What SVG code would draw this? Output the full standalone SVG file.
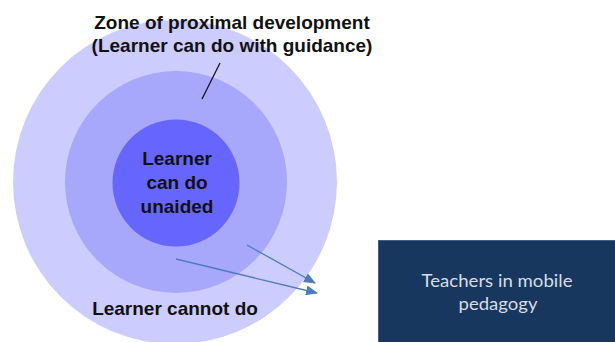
<svg xmlns="http://www.w3.org/2000/svg" width="615" height="342" viewBox="0 0 615 342">
<defs>
<style>
.lbl{font-family:"Liberation Sans",Arial,sans-serif;font-weight:bold;font-size:19px;fill:#111;text-anchor:middle}
.box{font-family:Lato,"Open Sans",sans-serif;font-size:17px;fill:#d8dde6;text-anchor:middle}
.arr{stroke:#4a7ebb;stroke-width:1.3;fill:none;marker-end:url(#ah)}
</style>
<marker id="ah" viewBox="0 0 12 10" refX="11" refY="5" markerWidth="12" markerHeight="10" markerUnits="userSpaceOnUse" orient="auto">
<path d="M0,0 L12,5 L0,10 z" fill="#4a7ebb"/>
</marker>
</defs>
<rect width="615" height="342" fill="#ffffff"/>
<g id="outer">
<circle cx="175" cy="182" r="162" fill="#ccccfe"/>
<text class="lbl" x="175" y="315">Learner cannot do</text>
</g>
<g id="middle">
<circle cx="176" cy="182" r="111" fill="#a7a7fc"/>
</g>
<g id="inner">
<circle cx="176" cy="183" r="63.5" fill="#6666fe"/>
<text class="lbl" x="177" y="165">Learner</text>
<text class="lbl" x="177" y="189">can do</text>
<text class="lbl" x="177" y="213">unaided</text>
</g>
<g id="zpd">
<text class="lbl" x="232" y="29">Zone of proximal development</text>
<text class="lbl" x="232" y="52">(Learner can do with guidance)</text>
</g>
<g id="box">
<rect x="378.5" y="240.5" width="240" height="105" fill="#17375e" stroke="#3b5f8c" stroke-width="1"/>
<text class="box" x="497" y="287" textLength="151" lengthAdjust="spacingAndGlyphs">Teachers in mobile</text>
<text class="box" x="498" y="310" textLength="79" lengthAdjust="spacingAndGlyphs">pedagogy</text>
</g>
<g id="connectors">
<line x1="220" y1="63" x2="202" y2="99" stroke="#111" stroke-width="1.3"/>
<line class="arr" x1="247" y1="245" x2="315" y2="283"/>
<line class="arr" x1="176" y1="259" x2="317" y2="293"/>
</g>
</svg>
